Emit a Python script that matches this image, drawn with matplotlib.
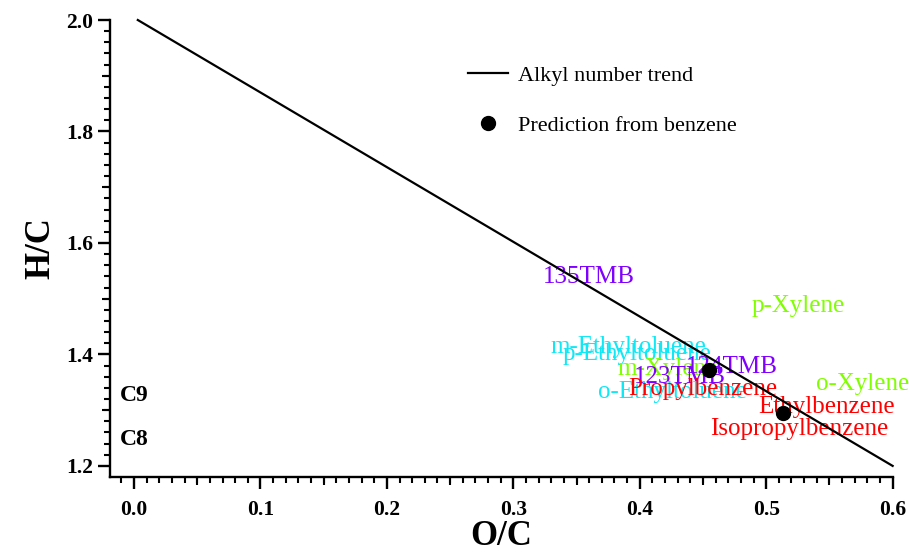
import matplotlib.pyplot as plt
import numpy as np

plt.rcParams['font.family'] = ['Liberation Serif', 'DejaVu Serif']

# trend line (alkyl number) and predictions from benzene
trend_oc = [0.003, 0.6]
trend_hc = [2.0, 1.2]
pred_oc = [0.455, 0.513]
pred_hc = [1.372, 1.295]

# compound labels: name, O/C, H/C, colour group
names = ['135TMB', 'p-Xylene', 'm-Ethyltoluene', 'p-Ethyltoluene', 'm-Xylene',
         '124TMB', '123TMB', 'o-Ethyltoluene', 'Propylbenzene', 'o-Xylene',
         'Ethylbenzene', 'Isopropylbenzene']
name_oc = [0.360, 0.525, 0.391, 0.398, 0.422, 0.473, 0.432, 0.426, 0.450, 0.576,
           0.548, 0.526]
name_hc = [1.539, 1.487, 1.413, 1.400, 1.374, 1.377, 1.359, 1.332, 1.338, 1.347,
           1.305, 1.266]
groups = ['C9a', 'C8a', 'C9b', 'C9b', 'C8a', 'C9a', 'C9a', 'C9b', 'C9c', 'C8a',
          'C8b', 'C9c']
group_colors = {'C9a': '#8000FF', 'C9b': '#10E8F5', 'C8a': '#80FF00',
                'C9c': '#FF0000', 'C8b': '#FF0000'}

fig = plt.figure(figsize=(9.09, 5.56), dpi=100)
ax = fig.add_axes([0.121, 0.142, 0.861, 0.822])

ax.plot(trend_oc, trend_hc, color='black', lw=1.6, zorder=3,
        label='Alkyl number trend', clip_on=False)
ax.plot(pred_oc, pred_hc, 'o', color='black', ms=10, zorder=4,
        label='Prediction from benzene', clip_on=False)

for n, x, y, g in zip(names, name_oc, name_hc, groups):
    ax.text(x, y, n, color=group_colors[g], fontsize=18, ha='center',
            va='center', zorder=2)

ax.text(-0.011, 1.327, 'C9', fontsize=17, fontweight='bold', va='center')
ax.text(-0.011, 1.247, 'C8', fontsize=17, fontweight='bold', va='center')

ax.set_xlim(-0.019, 0.6)
ax.set_ylim(1.18, 2.0)
ax.set_xticks(np.arange(0, 0.61, 0.1))
ax.set_xticks(np.arange(-0.01, 0.601, 0.01), minor=True)
ax.set_yticks(np.arange(1.2, 2.01, 0.2))
ax.set_yticks(np.arange(1.2, 2.01, 0.02), minor=True)
ax.xaxis.set_major_formatter(plt.FormatStrFormatter('%.1f'))
ax.yaxis.set_major_formatter(plt.FormatStrFormatter('%.1f'))

for s in ['top', 'right']:
    ax.spines[s].set_visible(False)
for s in ['left', 'bottom']:
    ax.spines[s].set_linewidth(1.7)

ax.tick_params(which='major', length=8.5, width=1.7, labelsize=15.5)
ax.tick_params(which='minor', length=4.3, width=1.5)
ax.tick_params(axis='x', which='major', pad=8)
ax.tick_params(axis='y', which='major', pad=3.5)
for lab in ax.get_xticklabels() + ax.get_yticklabels():
    lab.set_fontweight('bold')

# medium ticks at half-steps
sx = ax.secondary_xaxis('bottom')
sx.set_xticks(np.arange(0.05, 0.6, 0.1))
sx.tick_params(length=6, width=1.5, labelbottom=False)
sx.spines['bottom'].set_visible(False)
sy = ax.secondary_yaxis('left')
sy.set_yticks(np.arange(1.3, 2.0, 0.2))
sy.tick_params(length=6, width=1.5, labelleft=False)
sy.spines['left'].set_visible(False)

ax.set_xlabel('O/C', fontsize=25, fontweight='bold', labelpad=0)
ax.set_ylabel('H/C', fontsize=25, fontweight='bold', labelpad=6)

ax.legend(loc='upper left', bbox_to_anchor=(0.432, 0.944), frameon=False,
          fontsize=16, handlelength=1.8, handletextpad=0.45, labelspacing=1.3,
          numpoints=1)

fig.savefig('out.png', dpi=100)
